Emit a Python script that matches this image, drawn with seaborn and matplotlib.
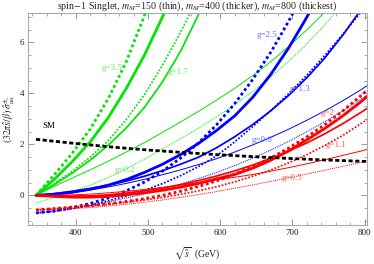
import numpy as np
import pandas as pd
import matplotlib
matplotlib.use('Agg')
import matplotlib.pyplot as plt
from matplotlib.ticker import MultipleLocator
import seaborn as sns

# sqrt(s) in GeV, values of (32 pi s/beta) sigma
s_grid = [345, 370, 395, 420, 445, 470, 495, 520, 545, 570, 595, 620, 645,
          670, 695, 720, 745, 770, 795, 803]

# green set: g=3.5 (thick), g=1.7 (medium), g=0.2 (thin)
g35_dot_s = [345, 370, 395, 420, 445, 470, 495, 505]
g35_dot_y = [0, 0.8, 1.65, 2.6, 3.8, 5.25, 7.05, 7.8]
g35_sol_s = [345, 370, 395, 420, 445, 470, 495, 520, 530]
g35_sol_y = [0, 0.62, 1.32, 2.1, 3.05, 4.2, 5.5, 7.0, 7.6]
g17_dot_y = [0, 0.45, 0.95, 1.5, 2.15, 2.98, 3.95, 5.1, 6.4, 7.8]
g17_sol_s = [345, 370, 395, 420, 445, 470, 495, 520, 545, 570, 580]
g17_sol_y = [0, 0.42, 0.87, 1.38, 1.97, 2.65, 3.45, 4.45, 5.65, 7.1, 7.75]
g02_sol_y = [0, 0.35, 0.68, 1.0, 1.34, 1.7, 2.07, 2.47, 2.88, 3.3, 3.74, 4.2,
             4.7, 5.25, 5.85, 6.5, 7.2, 7.95]
g02_dot_y = [-0.3, -0.08, 0.15, 0.4, 0.7, 1.04, 1.42, 1.82, 2.22, 2.64, 3.08,
             3.56, 4.08, 4.65, 5.27, 5.95, 6.7, 7.55]

# blue set: g=2.5, 1.3, 0.6
b25_dot_y = [-0.69, -0.62, -0.48, -0.32, -0.1, 0.18, 0.52, 0.95, 1.46, 2.06,
             2.77, 3.6, 4.55, 5.62, 6.85, 8.2]
b25_sol_y = [0, 0.04, 0.12, 0.24, 0.4, 0.62, 0.9, 1.22, 1.6, 2.04, 2.55, 3.12,
             3.85, 4.75, 5.8, 7.0, 8.3]
b13_sol_y = [0, 0.07, 0.16, 0.27, 0.4, 0.56, 0.75, 0.97, 1.22, 1.5, 1.87, 2.3,
             2.78, 3.32, 3.93, 4.62, 5.4, 6.3, 7.3]
b13_dot_y = [-0.69, -0.62, -0.52, -0.38, -0.21, -0.02, 0.2, 0.46, 0.77, 1.13,
             1.55, 2.1, 2.7, 3.33, 4.0, 4.72, 5.5, 6.33, 7.2]
b06_sol_y = [0, 0.05, 0.12, 0.21, 0.33, 0.47, 0.63, 0.81, 1.0, 1.21, 1.44, 1.7,
             1.98, 2.28, 2.6, 2.95, 3.32, 3.72, 4.15, 4.3]
b06_dot_y = [-0.69, -0.62, -0.52, -0.4, -0.26, -0.1, 0.05, 0.24, 0.44, 0.66,
             0.9, 1.17, 1.46, 1.78, 2.12, 2.5, 2.9, 3.33, 3.78, 3.93]

# red set: g=2, 1.1, 0.5
r20_sol_y = [0, -0.04, -0.07, -0.07, -0.04, 0.02, 0.1, 0.2, 0.32, 0.47, 0.65,
             0.82, 1.07, 1.38, 1.75, 2.18, 2.63, 3.13, 3.68, 3.87]
r20_dot_y = [-0.57, -0.52, -0.46, -0.4, -0.33, -0.24, -0.13, 0.0, 0.16, 0.35,
             0.57, 0.83, 1.13, 1.47, 1.86, 2.3, 2.78, 3.32, 3.92, 4.12]
r11_sol_y = [0, -0.02, -0.03, -0.02, 0.02, 0.09, 0.18, 0.29, 0.42, 0.58, 0.76,
             0.96, 1.19, 1.45, 1.74, 2.06, 2.42, 2.82, 3.26, 3.41]
r11_dot_y = [-0.57, -0.53, -0.48, -0.42, -0.35, -0.27, -0.18, -0.08, 0.04,
             0.18, 0.34, 0.53, 0.75, 1.0, 1.28, 1.6, 1.96, 2.36, 2.82, 2.97]
r05_sol_y = [0, 0.0, 0.02, 0.05, 0.1, 0.16, 0.23, 0.31, 0.4, 0.5, 0.61, 0.71,
             0.82, 0.95, 1.09, 1.24, 1.4, 1.57, 1.74, 1.8]
r05_dot_y = [-0.57, -0.55, -0.52, -0.48, -0.42, -0.35, -0.27, -0.18, -0.08,
             0.03, 0.15, 0.28, 0.41, 0.55, 0.69, 0.84, 0.99, 1.14, 1.3, 1.35]

# standard model
sm_s = [345, 395, 445, 495, 545, 595, 645, 695, 745, 803]
sm_y = [2.2, 2.05, 1.91, 1.79, 1.69, 1.6, 1.52, 1.45, 1.39, 1.33]

# curve labels
lab_text = ['g=3.5', 'g=1.7', 'g=0.2', 'g=2.5', 'g=1.3', 'g=0.6', 'g=2', 'g=1.1', 'g=0.5']
lab_x = [450, 542, 468, 664, 710, 658, 749, 760, 699]
lab_y = [5.0, 4.84, 1.0, 6.3, 4.18, 2.17, 3.24, 1.98, 0.69]
lab_col = ['#66ee66'] * 3 + ['#6a6aff'] * 3 + ['#ff5a5a'] * 3


def grid(y):
    return s_grid[:len(y)]


curves = [
    ('g35d', g35_dot_s, g35_dot_y), ('g35s', g35_sol_s, g35_sol_y),
    ('g17d', grid(g17_dot_y), g17_dot_y), ('g17s', g17_sol_s, g17_sol_y),
    ('g02s', grid(g02_sol_y), g02_sol_y), ('g02d', grid(g02_dot_y), g02_dot_y),
    ('b25d', grid(b25_dot_y), b25_dot_y), ('b25s', grid(b25_sol_y), b25_sol_y),
    ('b13s', grid(b13_sol_y), b13_sol_y), ('b13d', grid(b13_dot_y), b13_dot_y),
    ('b06s', grid(b06_sol_y), b06_sol_y), ('b06d', grid(b06_dot_y), b06_dot_y),
    ('r20s', grid(r20_sol_y), r20_sol_y), ('r20d', grid(r20_dot_y), r20_dot_y),
    ('r11s', grid(r11_sol_y), r11_sol_y), ('r11d', grid(r11_dot_y), r11_dot_y),
    ('r05s', grid(r05_sol_y), r05_sol_y), ('r05d', grid(r05_dot_y), r05_dot_y),
    ('sm', sm_s, sm_y),
]
df = pd.concat([pd.DataFrame({'s': s, 'val': y, 'curve': n}) for n, s, y in curves],
               ignore_index=True)

names = [c[0] for c in curves]
base = {'g': '#00e600', 'b': '#0000ff', 'r': '#ff0000', 's': 'black'}
palette = {n: base[n[0]] for n in names}
width = {'35': 2.0, '17': 1.25, '02': 0.7, '25': 2.0, '13': 1.25, '06': 0.7,
         '20': 2.0, '11': 1.25, '05': 0.7}
sizes = {n: (width[n[1:3]] if n != 'sm' else 2.0) for n in names}
dashes = {n: ('' if n.endswith('s') else (1, 1)) for n in names}
dashes['sm'] = (1.5, 0.9)

sns.set_theme(style='ticks')
plt.rcParams['font.family'] = ['Liberation Serif', 'DejaVu Serif']
plt.rcParams['mathtext.fontset'] = 'stix'

fig = plt.figure(figsize=(3.74, 2.64), dpi=100, facecolor='white')
ax = fig.add_axes([0.075, 0.148, 0.906, 0.803])
ax.set_facecolor('white')
sns.lineplot(data=df, x='s', y='val', hue='curve', size='curve', style='curve',
             palette=palette, sizes=sizes, dashes=dashes, sort=False,
             estimator=None, legend=False, ax=ax)

for t, x, y, c in zip(lab_text, lab_x, lab_y, lab_col):
    ax.text(x, y, t, color=c, fontsize=6.5, ha='center', va='center')
ax.text(363, 2.73, 'SM', color='black', fontsize=6.5, ha='center', va='center')

ax.set_xlim(334, 803)
ax.set_ylim(-1.16, 7.16)
ax.xaxis.set_major_locator(MultipleLocator(100))
ax.xaxis.set_minor_locator(MultipleLocator(20))
ax.yaxis.set_major_locator(MultipleLocator(2))
ax.yaxis.set_minor_locator(MultipleLocator(0.5))
ax.tick_params(which='both', direction='in', top=True, right=True,
               labelsize=6.5, color='#888888', labelcolor='#222222', pad=3)
ax.tick_params(which='major', length=4, width=0.6)
ax.tick_params(which='minor', length=2, width=0.5)
for sp in ax.spines.values():
    sp.set_color('#aaaaaa')
    sp.set_linewidth(0.8)

ax.set_xlabel(r'$\sqrt{\hat{s}}$  (GeV)', fontsize=7, labelpad=6)
ax.set_ylabel(r'$(32\pi\hat{s}/\beta)\;\hat{\sigma}_{u\bar{u}}^{\pm}$', fontsize=7, labelpad=2)
ax.set_title(r'spin$-$1 Singlet, $m_M$=150 (thin), $m_M$=400 (thicker), $m_M$=800 (thickest)',
             fontsize=7.2, pad=2)

fig.savefig('out.png', dpi=100, facecolor='white')
